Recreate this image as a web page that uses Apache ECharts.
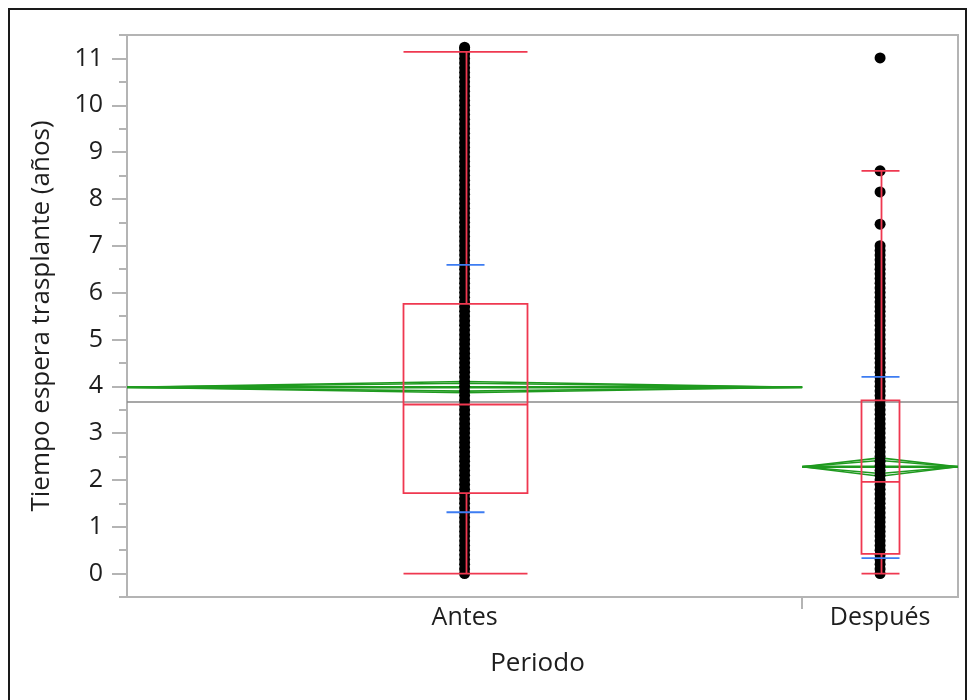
<!DOCTYPE html>
<html><head><meta charset="utf-8">
<script src="https://cdn.jsdelivr.net/npm/echarts@6/dist/echarts.min.js"></script>
<style>html,body{margin:0;padding:0;background:#fff}#c{width:969px;height:700px}</style>
</head><body><div id="c"></div><script>
// ---- data ----
const categories = ['Antes', 'Después'];
const groupN = [1300, 300];               // relative group sizes (JMP widths proportional to n)
const yTickValues = [0, 1, 2, 3, 4, 5, 6, 7, 8, 9, 10, 11];
const yMinorTickValues = [-0.5, 0.5, 1.5, 2.5, 3.5, 4.5, 5.5, 6.5, 7.5, 8.5, 9.5, 10.5, 11.5];
const antesValues = [
  0, 0.1, 0.2, 0.3, 0.4, 0.5, 0.6, 0.7, 0.8, 0.9,
  1, 1.1, 1.2, 1.3, 1.4, 1.5, 1.6, 1.7, 1.8, 1.9,
  2, 2.1, 2.2, 2.3, 2.4, 2.5, 2.6, 2.7, 2.8, 2.9,
  3, 3.1, 3.2, 3.3, 3.4, 3.5, 3.6, 3.7, 3.8, 3.9,
  4, 4.1, 4.2, 4.3, 4.4, 4.5, 4.6, 4.7, 4.8, 4.9,
  5, 5.1, 5.2, 5.3, 5.4, 5.5, 5.6, 5.7, 5.8, 5.9,
  6, 6.1, 6.2, 6.3, 6.4, 6.5, 6.6, 6.7, 6.8, 6.9,
  7, 7.1, 7.2, 7.3, 7.4, 7.5, 7.6, 7.7, 7.8, 7.9,
  8, 8.1, 8.2, 8.3, 8.4, 8.5, 8.6, 8.7, 8.8, 8.9,
  9, 9.1, 9.2, 9.3, 9.4, 9.5, 9.6, 9.7, 9.8, 9.9,
  10, 10.1, 10.2, 10.3, 10.4, 10.5, 10.6, 10.7, 10.8, 10.9,
  11, 11.1, 11.2, 11.24
];
const despuesValues = [
  0, 0.1, 0.2, 0.3, 0.4, 0.5, 0.6, 0.7, 0.8, 0.9,
  1, 1.1, 1.2, 1.3, 1.4, 1.5, 1.6, 1.7, 1.8, 1.9,
  2, 2.1, 2.2, 2.3, 2.4, 2.5, 2.6, 2.7, 2.8, 2.9,
  3, 3.1, 3.2, 3.3, 3.4, 3.5, 3.6, 3.7, 3.8, 3.9,
  4, 4.1, 4.2, 4.3, 4.4, 4.5, 4.6, 4.7, 4.8, 4.9,
  5, 5.1, 5.2, 5.3, 5.4, 5.5, 5.6, 5.7, 5.8, 5.9,
  6, 6.1, 6.2, 6.3, 6.4, 6.5, 6.6, 6.7, 6.8, 6.9,
  7.0, 7.46, 8.15, 8.6, 11.01
];
const boxMin    = [0, 0];
const boxQ1     = [1.72, 0.42];
const boxMedian = [3.61, 1.96];
const boxQ3     = [5.76, 3.70];
const boxMax    = [11.14, 8.60];
const groupMean = [3.98, 2.28];
const ciLower   = [3.86, 2.08];
const ciUpper   = [4.10, 2.47];
const sdLower   = [1.31, 0.33];
const sdUpper   = [6.59, 4.20];
const grandMean = 3.66;

// ---- derived ----
const total = groupN[0] + groupN[1];
const starts = [0, groupN[0]];
const ends = [groupN[0], total];
const centers = [groupN[0] / 2, groupN[0] + groupN[1] / 2];

const FONT = 'Open Sans';
const TXT = '#1e1e1e';
const RED = '#ef3850', BLUE = '#3d7cf2', GREEN = '#1f9a1f', AXC = '#b4b4b4';
const boxHalfPx = [62, 19];
const sdHalfPx = [19, 19];

const chart = echarts.init(document.getElementById('c'), null, {renderer: 'canvas'});

function boxItem(params, api) {
  const i = params.dataIndex;
  const cx = Math.round(api.coord([centers[i], 0])[0]) + 0.5;
  const y = v => api.coord([centers[i], v])[1];
  const hw = boxHalfPx[i], sw = sdHalfPx[i];
  const rs = {stroke: RED, lineWidth: 1.8, fill: 'none'};
  const bs = {stroke: BLUE, lineWidth: 1.8};
  const L = (x1, y1, x2, y2, s) => ({type: 'line', shape: {x1, y1, x2, y2}, style: s});
  return {type: 'group', children: [
    {type: 'rect', shape: {x: cx - hw, y: y(boxQ3[i]), width: 2 * hw, height: y(boxQ1[i]) - y(boxQ3[i])}, style: rs},
    L(cx - hw, y(boxMedian[i]), cx + hw, y(boxMedian[i]), rs),
    L(cx + 1, y(boxQ3[i]), cx + 1, y(boxMax[i]), rs),
    L(cx + 1, y(boxQ1[i]), cx + 1, y(boxMin[i]), rs),
    L(cx - hw, y(boxMax[i]), cx + hw, y(boxMax[i]), rs),
    L(cx - hw, y(boxMin[i]), cx + hw, y(boxMin[i]), rs),
    L(cx - sw, y(sdUpper[i]), cx + sw, y(sdUpper[i]), bs),
    L(cx - sw, y(sdLower[i]), cx + sw, y(sdLower[i]), bs)
  ]};
}

function diamondItem(params, api) {
  const i = params.dataIndex;
  const m = groupMean[i];
  const pL = api.coord([starts[i], m]);
  const pR = api.coord([ends[i], m]);
  const cx = api.coord([centers[i], m])[0];
  const yU = api.coord([centers[i], ciUpper[i]])[1];
  const yD = api.coord([centers[i], ciLower[i]])[1];
  const om = Math.SQRT1_2;
  const yOU = pL[1] + (yU - pL[1]) * om;
  const yOD = pL[1] + (yD - pL[1]) * om;
  const s = {stroke: GREEN, lineWidth: 1.6, fill: 'none', lineJoin: 'bevel'};
  return {type: 'group', children: [
    {type: 'polyline', shape: {points: [[pL[0], pL[1]], [cx, yU], [pR[0], pR[1]]]}, style: s},
    {type: 'polyline', shape: {points: [[pL[0], pL[1]], [cx, yD], [pR[0], pR[1]]]}, style: s},
    {type: 'polyline', shape: {points: [[pL[0], pL[1]], [cx, yOU], [pR[0], pR[1]]]}, style: s},
    {type: 'polyline', shape: {points: [[pL[0], pL[1]], [cx, yOD], [pR[0], pR[1]]]}, style: s},
    {type: 'line', shape: {x1: pL[0], y1: pL[1], x2: pR[0], y2: pR[1]}, style: {stroke: GREEN, lineWidth: 2.4}}
  ]};
}

const option = {
  animation: false,
  backgroundColor: '#fff',
  textStyle: {fontFamily: FONT},
  grid: {left: 127, right: 11, top: 35, bottom: 103, show: true, borderColor: AXC, borderWidth: 2, backgroundColor: 'transparent'},
  xAxis: {
    type: 'value', min: 0, max: total,
    axisLine: {show: true, onZero: false, lineStyle: {color: AXC, width: 2}},
    axisTick: {show: true, customValues: [groupN[0]], length: 12, lineStyle: {color: AXC, width: 2}},
    axisLabel: {customValues: centers, margin: 8, color: TXT, fontSize: 25, fontFamily: FONT,
      formatter: v => { const k = centers.indexOf(v); return k >= 0 ? categories[k] : ''; }},
    splitLine: {show: false},
    name: 'Periodo', nameLocation: 'middle', nameGap: 54,
    nameTextStyle: {color: TXT, fontSize: 26, fontFamily: FONT, padding: [0, 10, 0, 0]}
  },
  yAxis: [{
    type: 'value', min: -0.5, max: 11.5, position: 'left',
    axisLine: {show: true, lineStyle: {color: AXC, width: 2}},
    axisTick: {show: true, customValues: yTickValues, length: 15, lineStyle: {color: AXC, width: 2}},
    axisLabel: {customValues: yTickValues, margin: 24, color: TXT, fontSize: 25, fontFamily: FONT},
    splitLine: {show: false},
    name: 'Tiempo espera trasplante (años)', nameLocation: 'middle', nameGap: 72,
    nameTextStyle: {color: TXT, fontSize: 26, fontFamily: FONT}
  }, {
    type: 'value', min: -0.5, max: 11.5, position: 'left', offset: 0,
    axisLine: {show: false},
    axisTick: {show: true, customValues: yMinorTickValues, length: 8, lineStyle: {color: AXC, width: 2}},
    axisLabel: {show: false},
    splitLine: {show: false}
  }],
  series: [
    {
      type: 'scatter', name: 'Antes', z: 3, symbolSize: 11,
      itemStyle: {color: '#000', opacity: 1},
      data: antesValues.map(v => [centers[0], v]),
      markLine: {silent: true, symbol: 'none', z: 1, label: {show: false},
        lineStyle: {color: '#8a8a8a', width: 1.6, type: 'solid'},
        data: [{yAxis: grandMean}]}
    },
    {
      type: 'scatter', name: 'Después', z: 3, symbolSize: 11,
      itemStyle: {color: '#000', opacity: 1},
      data: despuesValues.map(v => [centers[1], v])
    },
    {
      type: 'custom', name: 'diamonds', z: 2, renderItem: diamondItem, silent: true, clip: true,
      data: categories.map((c, i) => [centers[i], groupMean[i]])
    },
    {
      type: 'custom', name: 'boxes', z: 4, renderItem: boxItem, silent: true,
      data: categories.map((c, i) => [centers[i], boxMedian[i]])
    }
  ],
  graphic: [{
    type: 'rect', silent: true, z: 100,
    shape: {x: 9, y: 9, width: 957, height: 720},
    style: {fill: 'none', stroke: '#1a1a1a', lineWidth: 2}
  }]
};
chart.setOption(option);
</script></body></html>
